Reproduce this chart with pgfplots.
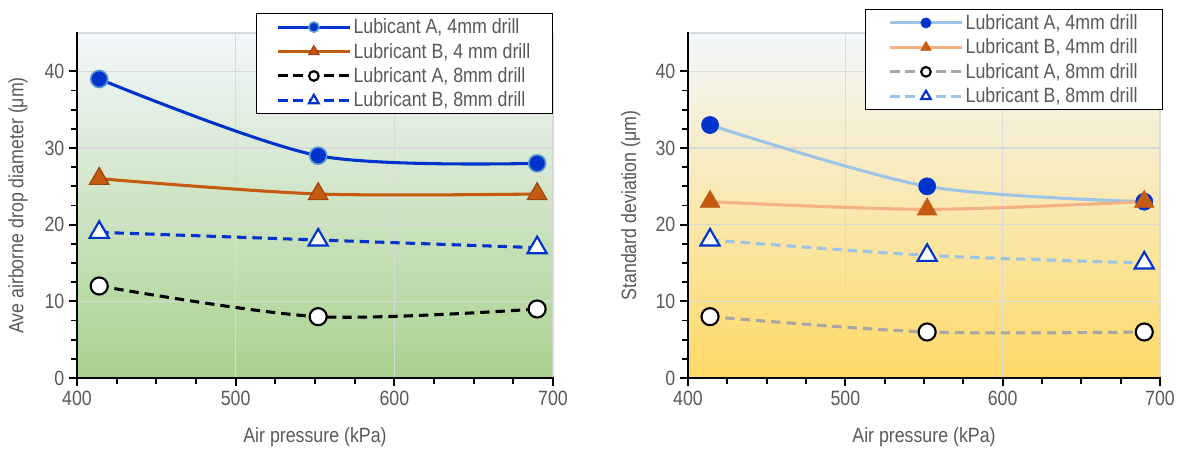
\documentclass[border=0pt]{standalone}
\usepackage{fontspec}
\setmainfont{Liberation Sans}[FakeStretch=0.86]
\usepackage{pgfplots}
\pgfplotsset{compat=1.18}
\definecolor{txt}{HTML}{595959}
\definecolor{dblue}{HTML}{0033CC}
\definecolor{lblue}{HTML}{5B9BD5}
\definecolor{orng}{HTML}{C55A11}
\definecolor{dorng}{HTML}{9A440C}
\definecolor{lorng}{HTML}{F4B183}
\definecolor{pblue}{HTML}{9DC3E6}
\definecolor{gry}{HTML}{A6A6A6}
\definecolor{gridc}{HTML}{D9D9D9}
\definecolor{topc}{HTML}{F3F7FB}
\definecolor{grn}{HTML}{A9D18E}
\definecolor{ylw}{HTML}{FFD966}
\pgfplotsset{
  base/.style={
    scale only axis, height=258.75pt,
    xmin=400, xmax=700, ymin=0, ymax=45,
    xtick={400,500,600,700}, ytick={0,10,20,30,40},
    minor x tick num=3, minor y tick num=3,
    axis x line*=bottom, axis y line*=left,
    axis line style={draw=none},
    major tick length=6pt, minor tick length=4.5pt,
    xtick align=outside, ytick align=outside,
    every major tick/.append style={draw=black, line width=1.4pt},
    every minor tick/.append style={draw=black, line width=1.4pt},
    grid=none,
    extra x ticks={500,600,700}, extra x tick labels={},
    extra y ticks={10,20,30,40,45}, extra y tick labels={},
    extra tick style={grid=major, major tick length=0pt,
      major grid style={gridc, line width=1.1pt}},
    ticklabel style={font=\fontsize{15.5}{18}\selectfont, text=txt},
    /pgf/number format/assume math mode=true,
    label style={font=\fontsize{15.5}{18}\selectfont, text=txt},
    xlabel={Air pressure (kPa)},
    xlabel style={at={(axis description cs:0.5,-0.171)}, anchor=center},
    legend cell align=left,
    legend style={draw=black, line width=0.8pt, fill=white,
      font=\fontsize{15.5}{16}\selectfont, text=txt,
      inner xsep=15pt, inner ysep=1pt,
      nodes={inner xsep=1.6pt, inner ysep=2.8pt}},
    smooth, tension=0.5,
  },
  limg/.style={legend image code/.code={%
      \draw[##1, mark size=#1, mark repeat=2, mark phase=2]
        plot coordinates {(0pt,0pt) (27pt,0pt) (54pt,0pt)};}},
}
\begin{document}
\begin{tikzpicture}
\path (0,0) rectangle (886.5pt,337.5pt);
% left axis
\begin{axis}[base, width=357pt, at={(57.75pt,54pt)}, anchor=south west,
  axis background/.style={shade, top color=topc, bottom color=grn},
  ylabel={Ave airborne drop diameter (μm)},
  ylabel style={at={(axis description cs:-0.124,0.5)}, anchor=center},
  legend style={at={(1,1.058)}, anchor=north east}]
\coordinate (LT) at (rel axis cs:0,1);
\coordinate (LO) at (rel axis cs:0,0);
\coordinate (LR) at (rel axis cs:1,0);
\addplot[dblue, line width=2.3pt, mark=*, mark size=6.4pt,
  mark options={fill=dblue, draw=lblue, line width=1.2pt}, limg=3.8pt]
  coordinates {(414,39) (552,29) (690,28)};
\addlegendentry{Lubicant A, 4mm drill}
\addplot[orng, line width=2.3pt, mark=triangle*, mark size=8.5pt,
  mark options={fill=orng, draw=dorng, line width=0.8pt}, limg=4.5pt]
  coordinates {(414,26) (552,24) (690,24)};
\addlegendentry{Lubricant B, 4 mm drill}
\addplot[black, line width=2.3pt, dash pattern=on 7pt off 4.5pt, mark=*, mark size=6.4pt,
  mark options={solid, fill=white, draw=black, line width=1.6pt}, limg=3.6pt]
  coordinates {(414,12) (552,8) (690,9)};
\addlegendentry{Lubricant A, 8mm drill}
\addplot[dblue, line width=2.3pt, dash pattern=on 7pt off 4.5pt, mark=triangle*, mark size=8.3pt,
  mark options={solid, fill=white, draw=dblue, line width=1.6pt}, limg=4.2pt]
  coordinates {(414,19) (552,18) (690,17)};
\addlegendentry{Lubricant B, 8mm drill}
\end{axis}
\draw[black, line width=2.2pt, line cap=rect] (LT) -- (LO) -- (LR);
% right axis
\begin{axis}[base, width=354pt, at={(516pt,54pt)}, anchor=south west,
  axis background/.style={shade, top color=topc, bottom color=ylw},
  ylabel={Standard deviation (μm)},
  ylabel style={at={(axis description cs:-0.121,0.5)}, anchor=center},
  legend style={at={(1.006,1.07)}, anchor=north east, inner xsep=17pt}]
\coordinate (RT) at (rel axis cs:0,1);
\coordinate (RO) at (rel axis cs:0,0);
\coordinate (RR) at (rel axis cs:1,0);
\addplot[pblue, line width=2.3pt, mark=*, mark size=6.4pt,
  mark options={fill=dblue, draw=dblue, line width=0.5pt}, limg=3.8pt]
  coordinates {(414,33) (552,25) (690,23)};
\addlegendentry{Lubricant A, 4mm drill}
\addplot[lorng, line width=2.3pt, mark=triangle*, mark size=8.5pt,
  mark options={fill=orng, draw=orng, line width=0.5pt}, limg=4.5pt]
  coordinates {(414,23) (552,22) (690,23)};
\addlegendentry{Lubricant B, 4mm drill}
\addplot[gry, line width=2.3pt, dash pattern=on 7pt off 4.5pt, mark=*, mark size=6.4pt,
  mark options={solid, fill=white, draw=black, line width=1.6pt}, limg=3.6pt]
  coordinates {(414,8) (552,6) (690,6)};
\addlegendentry{Lubricant A, 8mm drill}
\addplot[pblue, line width=2.3pt, dash pattern=on 7pt off 4.5pt, mark=triangle*, mark size=8.3pt,
  mark options={solid, fill=white, draw=dblue, line width=1.6pt}, limg=4.2pt]
  coordinates {(414,18) (552,16) (690,15)};
\addlegendentry{Lubricant B, 8mm drill}
\end{axis}
\draw[black, line width=2.2pt, line cap=rect] (RT) -- (RO) -- (RR);
\end{tikzpicture}
\end{document}
